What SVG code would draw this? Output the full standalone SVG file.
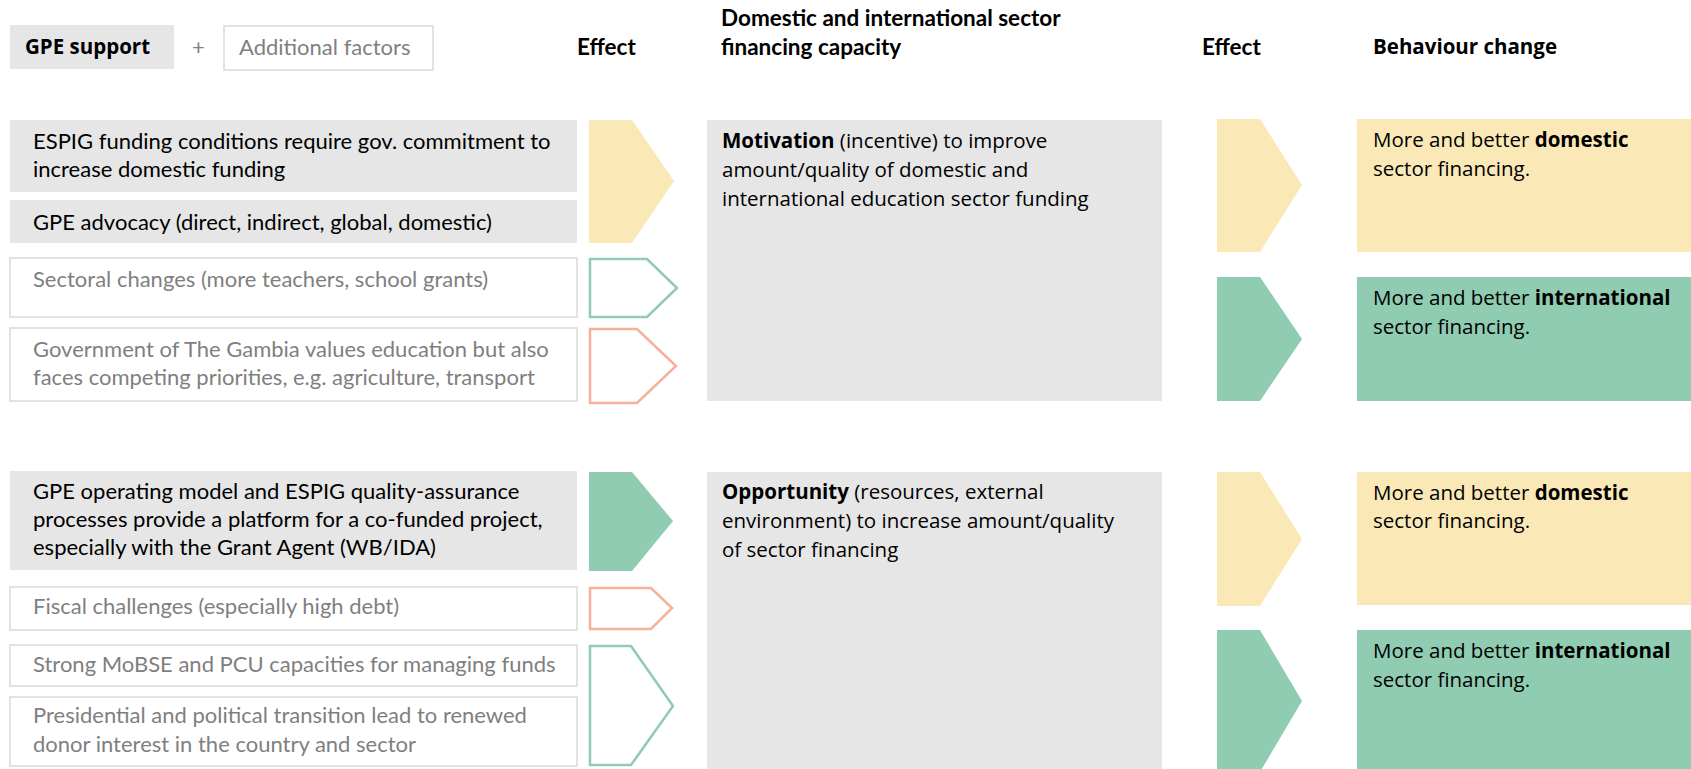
<svg xmlns="http://www.w3.org/2000/svg" width="1691" height="769" viewBox="0 0 1691 769">
<style>
.g{fill:#e6e6e6}
.ob{fill:#ffffff;stroke:#e2e2e2;stroke-width:2}
.y{fill:#fae9b7}
.gr{fill:#8fccb1}
.og{fill:none;stroke:#8fccb1;stroke-width:2.5}
.os{fill:none;stroke:#f8af9b;stroke-width:2.5}
.c{font-family:Lato,"Liberation Sans",sans-serif;font-size:22px}
.h{font-family:Lato,"Liberation Sans",sans-serif;font-size:22.5px;font-weight:bold}
.s{font-family:"Open Sans","Noto Sans",sans-serif;font-size:20.5px}
.k{fill:#000}
.m{fill:#7f7f7f}
.b{font-weight:bold}
</style>
<rect width="1691" height="769" fill="#ffffff"/>
<g id="header">
<rect class="g" x="10" y="25" width="164" height="44"/>
<text class="s b k" x="25" y="54" font-size="19">GPE support</text>
<text class="c m" x="192" y="55">+</text>
<rect class="ob" x="224" y="26" width="209" height="44"/>
<text class="c m" x="239" y="55">Additional factors</text>
<text class="h k" x="577" y="55">Effect</text>
<text class="h k" x="721" y="26">Domestic and international sector</text>
<text class="h k" x="721" y="55">financing capacity</text>
<text class="h k" x="1202" y="55">Effect</text>
<text class="s b k" x="1373" y="54" font-size="18.2">Behaviour change</text>
</g>
<g id="left-top">
<g id="n1"><rect class="g" x="10" y="120" width="567" height="72"/>
<text class="c k" x="33" y="149">ESPIG funding conditions require gov. commitment to</text>
<text class="c k" x="33" y="177">increase domestic funding</text></g>
<g id="n2"><rect class="g" x="10" y="200" width="567" height="43"/>
<text class="c k" x="33" y="230">GPE advocacy (direct, indirect, global, domestic)</text></g>
<g id="n3"><rect class="ob" x="10" y="258" width="567" height="59"/>
<text class="c m" x="33" y="287">Sectoral changes (more teachers, school grants)</text></g>
<g id="n4"><rect class="ob" x="10" y="328" width="567" height="73"/>
<text class="c m" x="33" y="357">Government of The Gambia values education but also</text>
<text class="c m" x="33" y="385">faces competing priorities, e.g. agriculture, transport</text></g>
</g>
<g id="left-bottom">
<g id="n5"><rect class="g" x="10" y="471" width="567" height="99"/>
<text class="c k" x="33" y="499">GPE operating model and ESPIG quality-assurance</text>
<text class="c k" x="33" y="527">processes provide a platform for a co-funded project,</text>
<text class="c k" x="33" y="555">especially with the Grant Agent (WB/IDA)</text></g>
<g id="n6"><rect class="ob" x="10" y="587" width="567" height="43"/>
<text class="c m" x="33" y="614">Fiscal challenges (especially high debt)</text></g>
<g id="n7"><rect class="ob" x="10" y="645" width="567" height="41"/>
<text class="c m" x="33" y="672">Strong MoBSE and PCU capacities for managing funds</text></g>
<g id="n8"><rect class="ob" x="10" y="697" width="567" height="69"/>
<text class="c m" x="33" y="723">Presidential and political transition lead to renewed</text>
<text class="c m" x="33" y="752">donor interest in the country and sector</text></g>
</g>
<g id="connectors">
<polygon class="y" points="589,120 632,120 674,181 632,243 589,243"/>
<polygon class="og" points="590,259 647,259 677,288 647,317 590,317"/>
<polygon class="os" points="590,329 637,329 676,366 637,403 590,403"/>
<polygon class="gr" points="589,472 632,472 673,521 632,571 589,571"/>
<polygon class="os" points="590,588 651,588 672,608 651,629 590,629"/>
<polygon class="og" points="590,646 631,646 673,706 631,765 590,765"/>
<polygon class="y" points="1217,119 1260,119 1302,185 1260,252 1217,252"/>
<polygon class="gr" points="1217,277 1260,277 1302,339 1260,401 1217,401"/>
<polygon class="y" points="1217,472 1260,472 1302,539 1260,606 1217,606"/>
<polygon class="gr" points="1217,630 1260,630 1302,701 1260,772 1217,772"/>
</g>
<g id="mid-top">
<rect class="g" x="707" y="120" width="455" height="281"/>
<text class="s k" x="722" y="148"><tspan class="b">Motivation</tspan> (incentive) to improve</text>
<text class="s k" x="722" y="177">amount/quality of domestic and</text>
<text class="s k" x="722" y="206">international education sector funding</text>
</g>
<g id="mid-bottom">
<rect class="g" x="707" y="472" width="455" height="297"/>
<text class="s k" x="722" y="499"><tspan class="b">Opportunity</tspan> (resources, external</text>
<text class="s k" x="722" y="528">environment) to increase amount/quality</text>
<text class="s k" x="722" y="557">of sector financing</text>
</g>
<g id="r1"><rect class="y" x="1357" y="119" width="334" height="133"/>
<text class="s k" x="1373" y="147">More and better <tspan class="b">domestic</tspan></text>
<text class="s k" x="1373" y="176">sector financing.</text></g>
<g id="r2"><rect class="gr" x="1357" y="277" width="334" height="124"/>
<text class="s k" x="1373" y="305">More and better <tspan class="b">international</tspan></text>
<text class="s k" x="1373" y="334">sector financing.</text></g>
<g id="r3"><rect class="y" x="1357" y="472" width="334" height="133"/>
<text class="s k" x="1373" y="500">More and better <tspan class="b">domestic</tspan></text>
<text class="s k" x="1373" y="528">sector financing.</text></g>
<g id="r4"><rect class="gr" x="1357" y="630" width="334" height="139"/>
<text class="s k" x="1373" y="658">More and better <tspan class="b">international</tspan></text>
<text class="s k" x="1373" y="687">sector financing.</text></g>
</svg>
